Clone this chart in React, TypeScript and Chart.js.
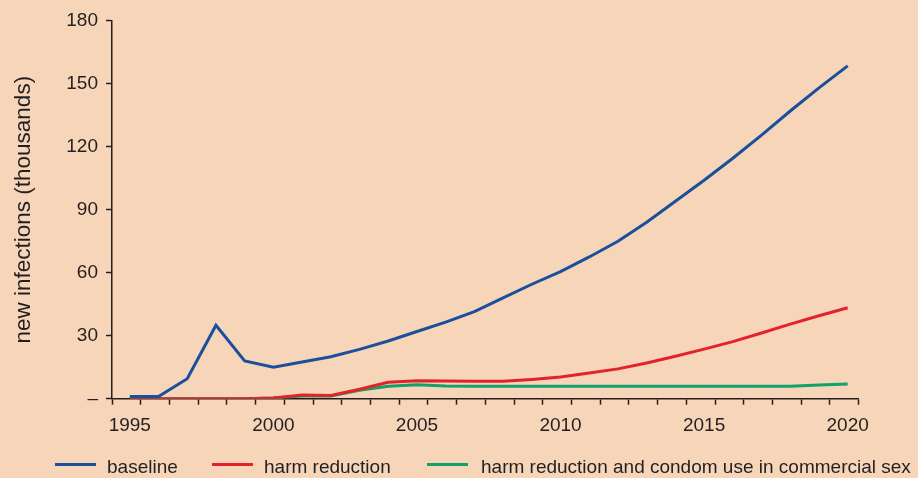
import React, { useEffect, useRef } from "react";
import { Chart, registerables } from "chart.js";

Chart.register(...registerables);

// ---- data ----
const years = [
  1995, 1996, 1997, 1998, 1999, 2000, 2001, 2002, 2003, 2004, 2005, 2006, 2007,
  2008, 2009, 2010, 2011, 2012, 2013, 2014, 2015, 2016, 2017, 2018, 2019, 2020,
];
const baseline = [
  1, 1, 9.5, 35, 18, 15, 17.5, 20, 23.5, 27.5, 32, 36.5, 41.5, 48, 54.5, 60.5,
  67.5, 75, 84, 94, 104, 114.5, 125.5, 137, 148, 158.5,
];
const harmReduction = [
  0, 0, 0, 0, 0, 0.3, 1.8, 1.5, 4.5, 7.8, 8.5, 8.4, 8.3, 8.3, 9.2, 10.3, 12.2,
  14.2, 17, 20.2, 23.6, 27.2, 31.3, 35.5, 39.5, 43.3,
];
const harmCondom = [
  0, 0, 0, 0, 0, 0.3, 1.3, 1.3, 4, 5.9, 6.7, 6, 5.9, 5.9, 5.9, 5.9, 5.9, 5.9,
  5.9, 5.9, 5.9, 5.9, 5.9, 5.9, 6.5, 7,
];
const seriesNames = [
  "baseline",
  "harm reduction",
  "harm reduction and condom use in commercial sex",
];
const yTicks = [0, 30, 60, 90, 120, 150, 180];
const xLabelYears = [1995, 2000, 2005, 2010, 2015, 2020];
const yTitle = "new infections (thousands)";

// ---- style ----
const BG = "#F6D5B9";
const INK = "#231F20";
const COLORS = ["#1B4F9E", "#E4222A", "#13A06B"];
const FONT = "'Liberation Sans', Arial, Helvetica, sans-serif";
const X_MIN = 1994.38;
const X_MAX = 2020.38;

const legendPos = [
  { line: 55, text: 107 },
  { line: 212, text: 264 },
  { line: 427, text: 481 },
];

export default function App() {
  const ref = useRef<HTMLCanvasElement | null>(null);

  useEffect(() => {
    if (!ref.current) return;
    const series = [baseline, harmReduction, harmCondom];
    const chart = new Chart(ref.current, {
      type: "line",
      data: {
        datasets: series.map((vals, i) => ({
          label: seriesNames[i],
          data: years.map((y, j) => ({ x: y, y: vals[j] })),
          borderColor: COLORS[i],
          backgroundColor: COLORS[i],
          borderWidth: 3,
          pointRadius: 0,
          tension: 0,
          fill: false,
        })),
      },
      options: {
        responsive: false,
        animation: false,
        devicePixelRatio: 1,
        layout: { padding: { top: 20.7, right: 918 - 858.6, bottom: 0, left: 0 } },
        plugins: { legend: { display: false }, tooltip: { enabled: false } },
        scales: {
          x: {
            type: "linear",
            min: X_MIN,
            max: X_MAX,
            afterFit: (s: any) => {
              s.height = 478 - 398.7;
            },
            afterBuildTicks: (s: any) => {
              const t: number[] = [];
              for (let k = 0; X_MIN + k <= X_MAX + 1e-6; k++) t.push(+(X_MIN + k).toFixed(2));
              xLabelYears.forEach((y) => t.push(y));
              t.sort((a, b) => a - b);
              s.ticks = t.map((v) => ({ value: v }));
            },
            ticks: {
              autoSkip: false,
              maxRotation: 0,
              padding: 10,
              color: INK,
              font: { family: FONT, size: 19 },
              callback: (v: any) =>
                Number.isInteger(v) && xLabelYears.includes(v) ? String(v) : "",
            },
            grid: {
              drawOnChartArea: false,
              drawTicks: true,
              tickLength: 6,
              tickWidth: 1.5,
              tickColor: (ctx: any) =>
                ctx.tick && Number.isInteger(ctx.tick.value) ? "rgba(0,0,0,0)" : INK,
            },
            border: { display: true, color: INK, width: 1.5 },
          },
          y: {
            min: 0,
            max: 180,
            afterFit: (s: any) => {
              s.width = 112;
            },
            afterBuildTicks: (s: any) => {
              s.ticks = yTicks.map((v) => ({ value: v }));
            },
            ticks: {
              padding: 8,
              color: INK,
              font: { family: FONT, size: 19 },
              callback: (v: any) => (v === 0 ? "\u2013" : String(v)),
            },
            grid: {
              drawOnChartArea: false,
              drawTicks: true,
              tickLength: 6,
              tickWidth: 1.5,
              tickColor: INK,
            },
            border: { display: true, color: INK, width: 1.5 },
            title: {
              display: true,
              text: yTitle,
              color: INK,
              font: { family: FONT, size: 22.5 },
              padding: { top: 10.5, bottom: 0 },
            },
          },
        },
      },
    });
    return () => chart.destroy();
  }, []);

  return (
    <div
      style={{
        position: "fixed",
        left: 0,
        top: 0,
        width: 918,
        height: 478,
        background: BG,
        overflow: "hidden",
      }}
    >
      <canvas ref={ref} width={918} height={478} style={{ display: "block" }} />
      {seriesNames.map((name, i) => (
        <React.Fragment key={name}>
          <div
            style={{
              position: "absolute",
              left: legendPos[i].line,
              top: 462.5,
              width: 41,
              height: 3,
              background: COLORS[i],
            }}
          />
          <div
            style={{
              position: "absolute",
              left: legendPos[i].text,
              top: 455.7,
              lineHeight: "22px",
              fontSize: 19,
              fontFamily: FONT,
              color: INK,
              whiteSpace: "nowrap",
            }}
          >
            {name}
          </div>
        </React.Fragment>
      ))}
    </div>
  );
}
